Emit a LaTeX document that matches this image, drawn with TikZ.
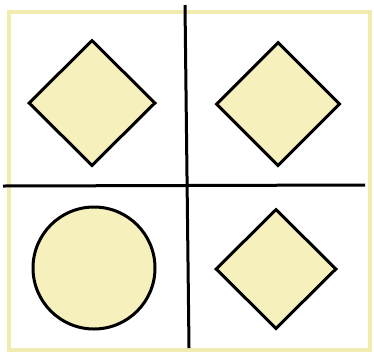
\documentclass[tikz,border=0pt]{standalone}
\usetikzlibrary{shapes.geometric}
\definecolor{paleyellow}{RGB}{246,240,188}
\definecolor{framey}{RGB}{242,235,175}
\begin{document}
\begin{tikzpicture}[x=1pt,y=-1pt,
  shapebox/.style={draw=black,line width=3pt,fill=paleyellow,inner sep=0pt},
  divider/.style={draw=black,line width=3pt}]
\useasboundingbox (0,0) rectangle (374,354);
% Frame
\draw[framey,line width=3.5pt] (9,12) rectangle (370,350);
% Quadrant lines
\coordinate (vtop) at (185,5);
\coordinate (vbot) at (189,348);
\coordinate (hleft) at (3,186);
\coordinate (hright) at (365,185);
\draw[divider] (vtop) -- (vbot);
\draw[divider] (hleft) -- (hright);
% Shapes
\node[shapebox,diamond,minimum width=127pt,minimum height=126pt] (topleft) at (92,103) {};
\node[shapebox,diamond,minimum width=124pt,minimum height=124pt] (topright) at (278,104) {};
\node[shapebox,circle,minimum size=122pt] (botleft) at (94,268) {};
\node[shapebox,diamond,minimum width=121pt,minimum height=120pt] (botright) at (276,269) {};
\end{tikzpicture}
\end{document}
